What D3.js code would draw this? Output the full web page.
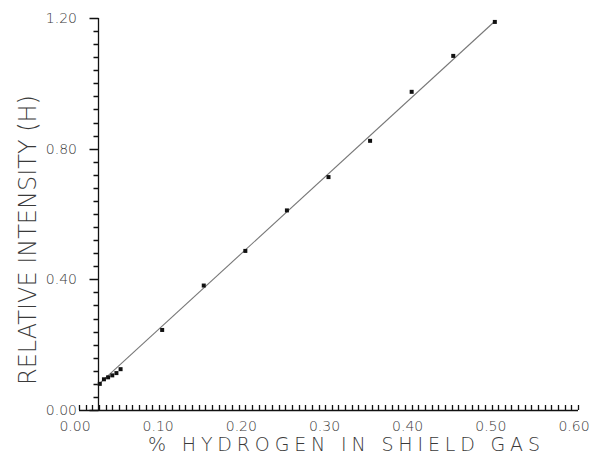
<!DOCTYPE html>
<html>
<head>
<meta charset="utf-8">
<script src="https://cdnjs.cloudflare.com/ajax/libs/d3/7.8.5/d3.min.js"></script>
<style>
  body { margin: 0; background: #fff; }
  .lbl { font-family: "DejaVu Sans", sans-serif; font-weight: 200; fill: #3a3a3a; }
</style>
</head>
<body>
<script>
// data
var pctH2 = [0.025, 0.03, 0.035, 0.04, 0.045, 0.05, 0.10, 0.15, 0.20, 0.25, 0.30, 0.35, 0.40, 0.45, 0.50];
var intensity = [0.080, 0.094, 0.100, 0.106, 0.113, 0.125, 0.245, 0.381, 0.487, 0.611, 0.713, 0.824, 0.974, 1.084, 1.188];

// fitted line end points
var fitX = [0.0225, 0.50];
var fitY = [0.076, 1.19];

var xTicks = [0, 0.1, 0.2, 0.3, 0.4, 0.5, 0.6];
var yTicks = [0, 0.4, 0.8, 1.2];
var yAxisAt = 0.0225;

var width = 595, height = 456;

var x = d3.scaleLinear().domain([0, 0.6]).range([79, 578]);
var y = d3.scaleLinear().domain([0, 1.2]).range([410, 18]);

var svg = d3.select("body").append("svg")
    .attr("width", width)
    .attr("height", height);

var axisColor = "#111";

// x axis: line plus small ticks pointing up, one path
var xMinor = d3.range(0, 75).map(function(i) { return i * 0.008; }).concat([0.6]);
var xPath = "M" + x(0) + "," + (y(0) + 0.5) + "H" + x(0.6);
xMinor.forEach(function(d) {
  var px = Math.round(x(d)) + 0.5;
  xPath += "M" + px + "," + y(0) + "V" + (y(0) - 5);
});
svg.append("path")
    .attr("d", xPath)
    .attr("fill", "none")
    .attr("stroke", axisColor)
    .attr("stroke-width", 1.3);

svg.selectAll("text.xlab")
    .data(xTicks)
  .enter().append("text")
    .attr("class", "lbl xlab")
    .attr("x", function(d) { return x(d) - 4; })
    .attr("y", 431)
    .attr("text-anchor", "middle")
    .style("font-size", "14px")
    .text(function(d) { return d.toFixed(2); });

// y axis: line plus minor + major ticks pointing left
var ax = Math.round(x(yAxisAt)) + 0.5;
var yMinor = d3.range(0, 31).map(function(i) { return i * 0.04; });
var yPath = "M" + ax + "," + y(0) + "V" + y(1.2);
yMinor.forEach(function(d, i) {
  var py = Math.round(y(d)) + 0.5;
  yPath += "M" + ax + "," + py + "H" + (ax - (i % 10 === 0 ? 9 : 5));
});
svg.append("path")
    .attr("d", yPath)
    .attr("fill", "none")
    .attr("stroke", axisColor)
    .attr("stroke-width", 1.3);

svg.selectAll("text.ylab")
    .data(yTicks)
  .enter().append("text")
    .attr("class", "lbl ylab")
    .attr("x", 77)
    .attr("y", function(d) { return y(d) + 5; })
    .attr("text-anchor", "end")
    .style("font-size", "14px")
    .text(function(d) { return d.toFixed(2); });

// fitted line
svg.append("line")
    .attr("x1", x(fitX[0])).attr("y1", y(fitY[0]))
    .attr("x2", x(fitX[1])).attr("y2", y(fitY[1]))
    .attr("stroke", "#777")
    .attr("stroke-width", 1.1);

// points
svg.selectAll("rect.pt")
    .data(pctH2)
  .enter().append("rect")
    .attr("class", "pt")
    .attr("x", function(d) { return x(d) - 2; })
    .attr("y", function(d, i) { return y(intensity[i]) - 2; })
    .attr("width", 4)
    .attr("height", 4)
    .attr("fill", "#111");

// axis titles
svg.append("text")
    .attr("class", "lbl")
    .attr("x", 148)
    .attr("y", 451)
    .attr("textLength", 392)
    .style("font-size", "19px")
    .text("% HYDROGEN IN SHIELD GAS");

svg.append("text")
    .attr("class", "lbl")
    .attr("transform", "translate(36,385) rotate(-90)")
    .attr("textLength", 290)
    .style("font-size", "24px")
    .text("RELATIVE INTENSITY (H)");
</script>
</body>
</html>
